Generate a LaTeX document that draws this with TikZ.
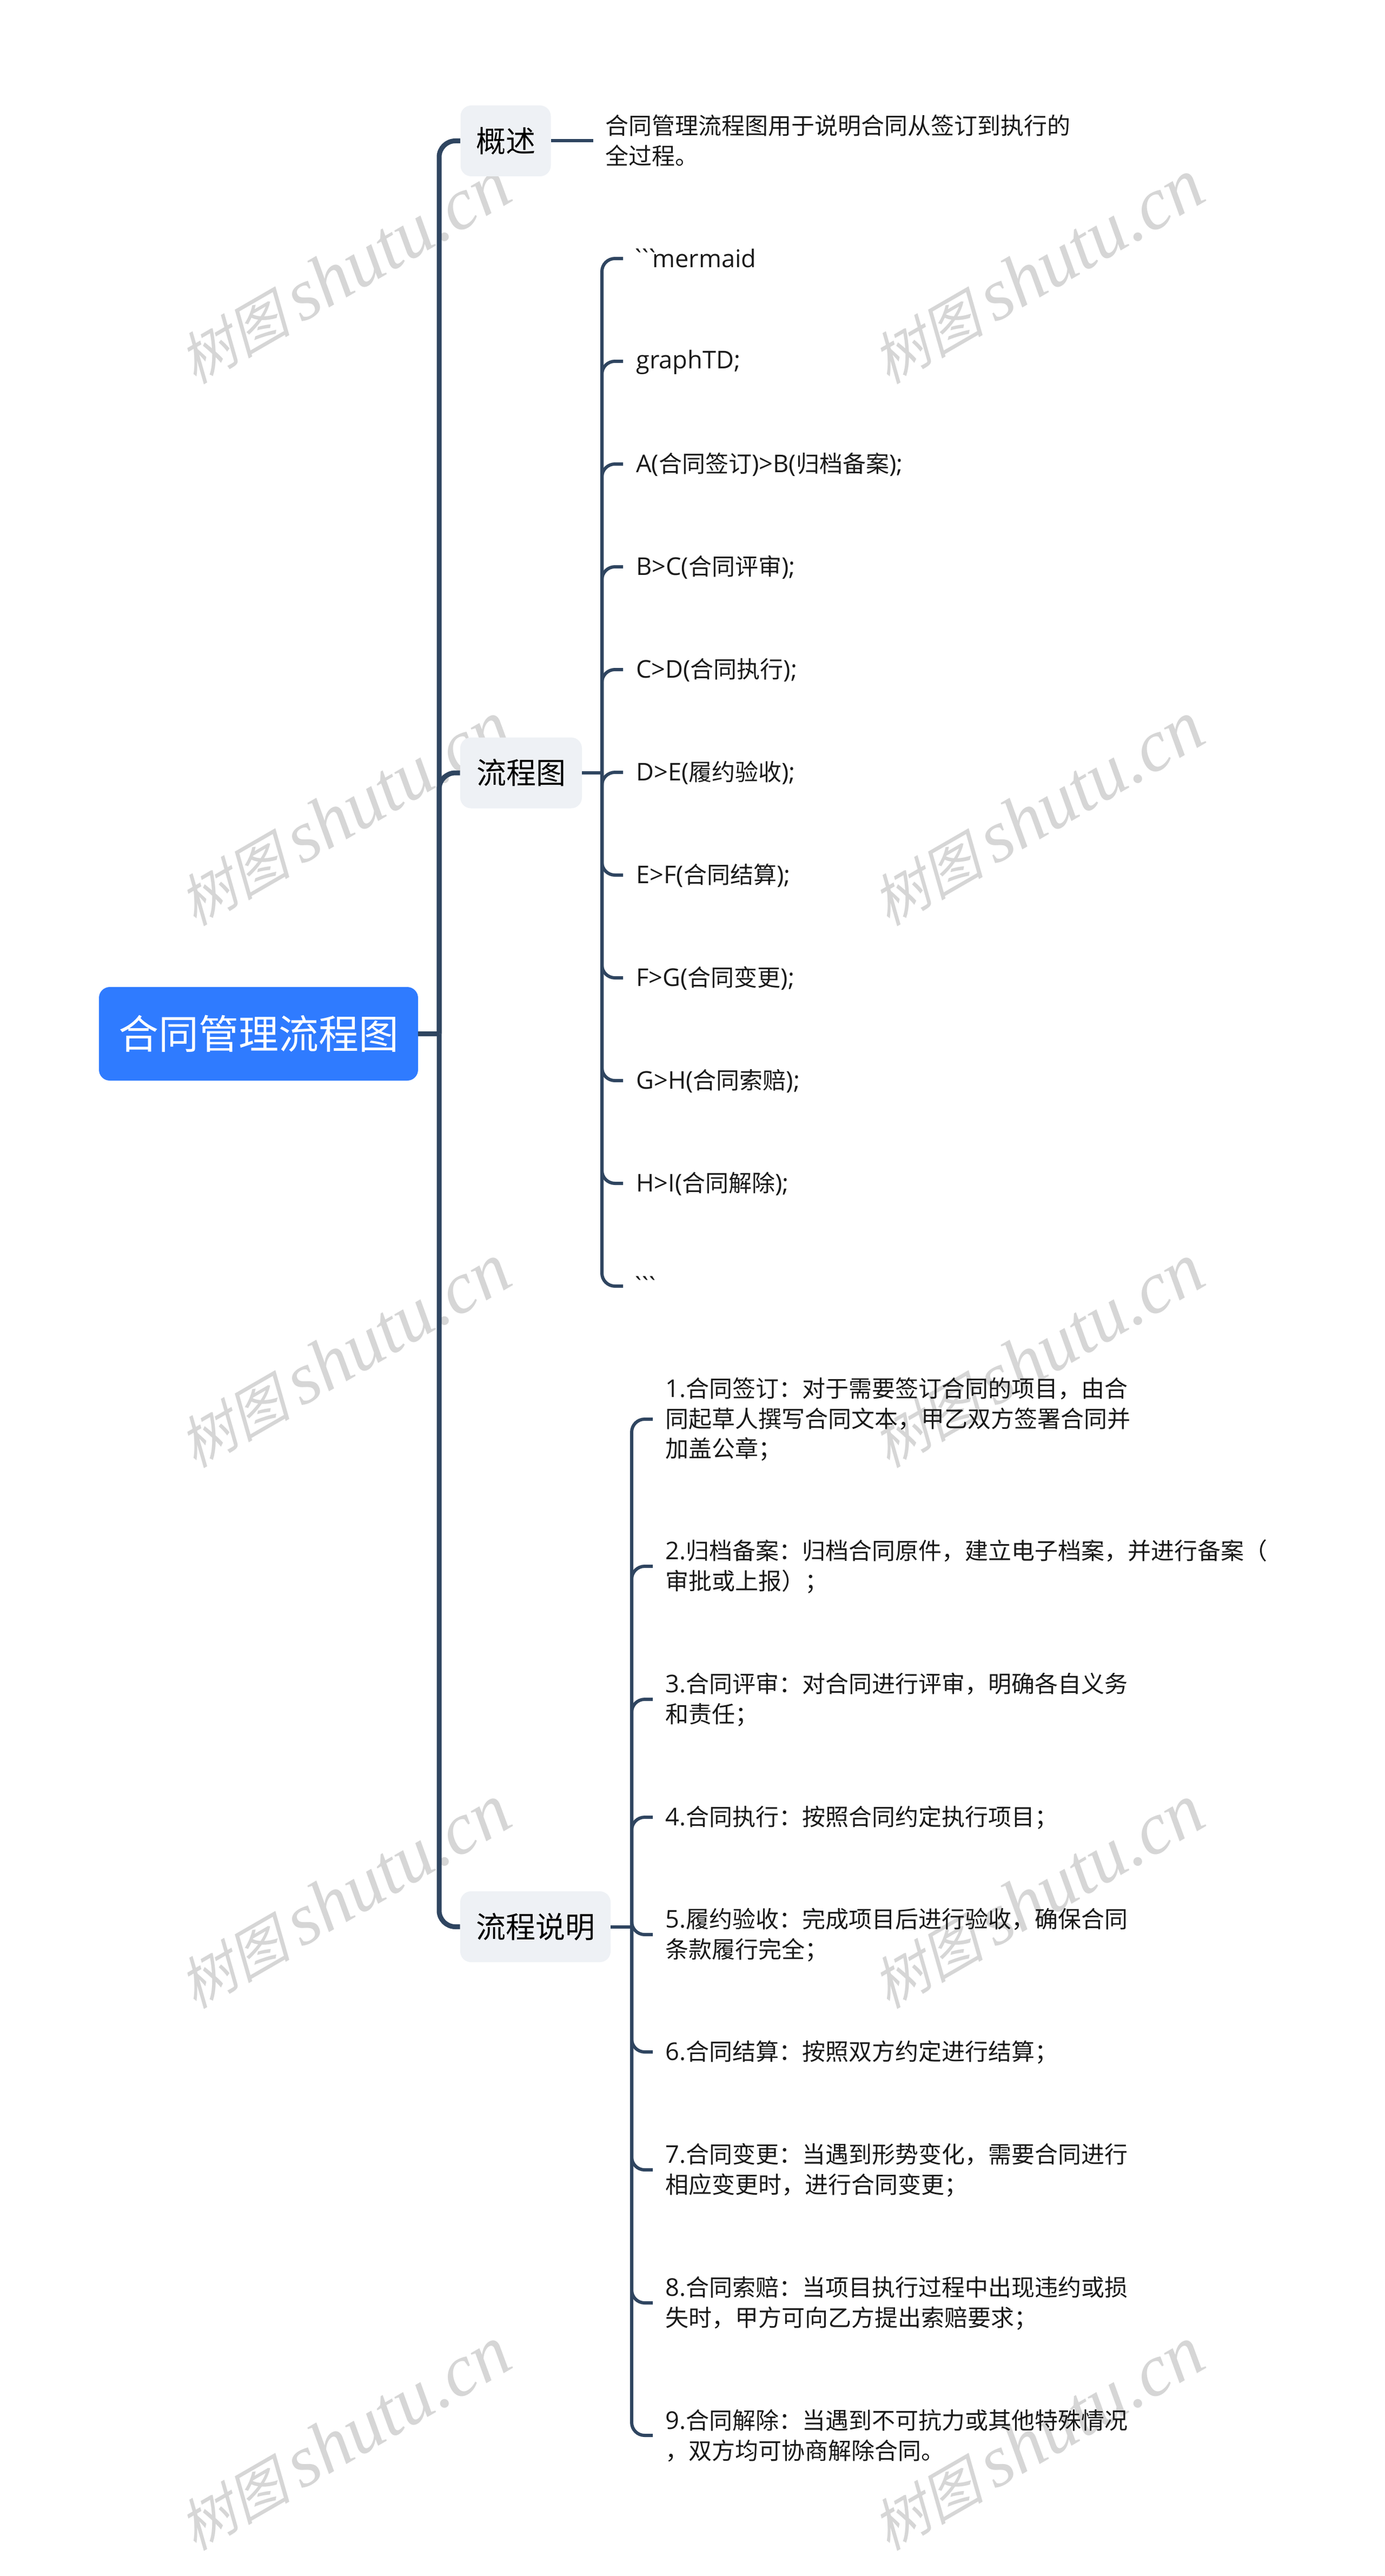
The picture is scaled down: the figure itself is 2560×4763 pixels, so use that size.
\documentclass[tikz,border=0pt]{standalone}
\usepackage{fontspec}
\setmainfont[Scale=1.05]{Open Sans}
\newfontfamily\btf[Scale=1.05]{Open Sans}
\newfontfamily\cjk{Noto Sans CJK SC}
\newfontfamily\wmcjk[FakeSlant=0.25]{Noto Sans CJK SC}
\newfontfamily\wmlat{Liberation Serif Italic}
\newcommand\C[1]{{\cjk #1}}
\newcommand\st{\rule[-2.6pt]{0pt}{21.5pt}}
\newcommand\bt{{\btf\kern-4.5pt\char96\kern-6.5pt\char96\kern-6.5pt\char96\kern-6.5pt}}
\definecolor{linkc}{HTML}{2F4560}
\definecolor{boxc}{HTML}{EEF1F5}
\definecolor{rootc}{HTML}{2F7BFF}
\definecolor{txt}{HTML}{1A1A1A}
\definecolor{wm}{HTML}{D6D6D6}
\tikzset{
  x=0.5pt,y=-0.5pt,
  thick link/.style={draw=linkc,line width=4.5pt},
  thin link/.style={draw=linkc,line width=3pt},
  topic/.style={fill=boxc,rounded corners=10pt,inner sep=0pt,text=black,font=\cjk\fontsize{27.5}{33}\selectfont,minimum height=65.5pt},
  leaf/.style={anchor=west,inner sep=0pt,align=left,text=txt,font=\fontsize{21.5}{27.75}\selectfont},
  mark text/.style={inner sep=0pt,text=wm,rotate=30},
}
\begin{document}
\begin{tikzpicture}
\useasboundingbox (0,0) rectangle (2560,4763);
\fill[white] (0,0) rectangle (2560,4763);
% watermarks
\foreach \wx/\wn in {636/a,1918/b}{
  \foreach \wy/\wk in {503/1,1505/2,2507/3,3507/4,4509/5}{
    \node[mark text] (wm\wn\wk) at (\wx,\wy) {{\fontsize{52}{60}\selectfont\wmcjk 树图}\kern10pt{\fontsize{68}{60}\selectfont\wmlat shutu.cn}};
  }
}
\coordinate (tr) at (812,0);
\coordinate (s2) at (1113,0);
\coordinate (s3) at (1168,0);
% root and topics
\node[fill=rootc,rounded corners=10pt,inner sep=0pt,minimum width=295pt,minimum height=86.5pt,text=white,font=\cjk\fontsize{37}{44}\selectfont] (root) at (478,1911.5) {合同管理流程图};
\node[topic,minimum width=83.5pt] (t1) at (935,260.5) {概述};
\node[topic,minimum width=112.5pt] (t2) at (963.5,1429) {流程图};
\node[topic,minimum width=139pt] (t3) at (990,3562.5) {流程说明};
% overview
\node[leaf] (o1) at (1119,260) {\st\C{合同管理流程图用于说明合同从签订到执行的}\\\st\C{全过程。}};
\coordinate (o1e) at (1097,260.5);
% flow items
\node[leaf] (a1) at (1176,478) {\st\bt mermaid};
\node[leaf] (a2) at (1176,668) {\st graphTD;};
\node[leaf] (a3) at (1176,858) {\st A(\C{合同签订})>B(\C{归档备案});};
\node[leaf] (a4) at (1176,1048) {\st B>C(\C{合同评审});};
\node[leaf] (a5) at (1176,1238) {\st C>D(\C{合同执行});};
\node[leaf] (a6) at (1176,1428) {\st D>E(\C{履约验收});};
\node[leaf] (a7) at (1176,1618) {\st E>F(\C{合同结算});};
\node[leaf] (a8) at (1176,1808) {\st F>G(\C{合同变更});};
\node[leaf] (a9) at (1176,1998) {\st G>H(\C{合同索赔});};
\node[leaf] (a10) at (1176,2188) {\st H>I(\C{合同解除});};
\node[leaf] (a11) at (1176,2378) {\st\bt};
% explanation items
\node[leaf] (b1) at (1230,2624) {\st 1.\C{合同签订：对于需要签订合同的项目，由合}\\\st\C{同起草人撰写合同文本，甲乙双方签署合同并}\\\st\C{加盖公章；}};
\node[leaf] (b2) at (1230,2896) {\st 2.\C{归档备案：归档合同原件，建立电子档案，并进行备案（}\\\st\C{审批或上报）；}};
\node[leaf] (b3) at (1230,3142) {\st 3.\C{合同评审：对合同进行评审，明确各自义务}\\\st\C{和责任；}};
\node[leaf] (b4) at (1230,3360) {\st 4.\C{合同执行：按照合同约定执行项目；}};
\node[leaf] (b5) at (1230,3577) {\st 5.\C{履约验收：完成项目后进行验收，确保合同}\\\st\C{条款履行完全；}};
\node[leaf] (b6) at (1230,3794) {\st 6.\C{合同结算：按照双方约定进行结算；}};
\node[leaf] (b7) at (1230,4012) {\st 7.\C{合同变更：当遇到形势变化，需要合同进行}\\\st\C{相应变更时，进行合同变更；}};
\node[leaf] (b8) at (1230,4258) {\st 8.\C{合同索赔：当项目执行过程中出现违约或损}\\\st\C{失时，甲方可向乙方提出索赔要求；}};
\node[leaf] (b9) at (1230,4503) {\st 9.\C{合同解除：当遇到不可抗力或其他特殊情况}\\\st\C{，双方均可协商解除合同。}};
% connectors
\draw[thick link] (root.east) -- (root.east -| tr);
\foreach \t in {t1,t2,t3}{
  \draw[thick link,rounded corners=15pt] (root.east -| tr) |- (\t.west);
}
\draw[thin link] (t1.east) -- (o1e);
\draw[thin link] (t2.east) -- (t2.east -| s2);
\draw[thin link] (t3.east) -- (t3.east -| s3);
\foreach \n in {a1,a2,a3,a4,a5,a6,a7,a8,a9,a10,a11}{
  \coordinate (\n e) at ([xshift=-12pt]\n.west);
  \draw[thin link,rounded corners=12pt] (t2.east -| s2) |- (\n e);
}
\foreach \n in {b1,b2,b3,b4,b5,b6,b7,b8,b9}{
  \coordinate (\n e) at ([xshift=-11.5pt]\n.west);
  \draw[thin link,rounded corners=12pt] (t3.east -| s3) |- (\n e);
}
\end{tikzpicture}
\end{document}
